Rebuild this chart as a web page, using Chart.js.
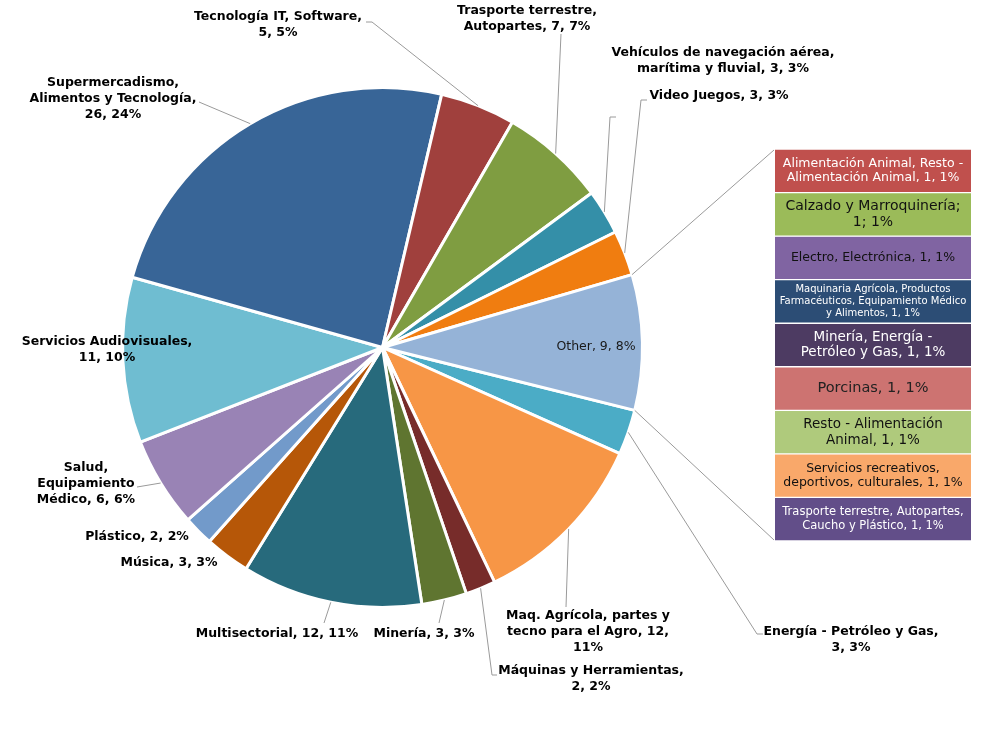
<!DOCTYPE html>
<html>
<head>
<meta charset="utf-8">
<script src="https://cdn.jsdelivr.net/npm/chart.js@4.4.1/dist/chart.umd.min.js"></script>
<style>
  body { margin: 0; background: #fff; }
  #wrap { position: relative; width: 993px; height: 744px; }
  #pieChart { position: absolute; left: 0; top: 0; }
  #otherChart { position: absolute; left: 775px; top: 149px; }
</style>
</head>
<body>
<div id="wrap">
  <canvas id="pieChart" width="993" height="744"></canvas>
  <canvas id="otherChart" width="196" height="392"></canvas>
</div>
<script>
// Pie data (alphabetical, "Other" last)
const categories = [
  'Energía - Petróleo y Gas',
  'Maq. Agrícola, partes y tecno para el Agro',
  'Máquinas y Herramientas',
  'Minería',
  'Multisectorial',
  'Música',
  'Plástico',
  'Salud, Equipamiento Médico',
  'Servicios Audiovisuales',
  'Supermercadismo, Alimentos y Tecnología',
  'Tecnología IT, Software',
  'Trasporte terrestre, Autopartes',
  'Vehículos de navegación aérea, marítima y fluvial',
  'Video Juegos',
  'Other'
];
const values = [3, 12, 2, 3, 12, 3, 2, 6, 11, 26, 5, 7, 3, 3, 9];
const dataLabels = [
  'Energía - Petróleo y Gas,\n3, 3%',
  'Maq. Agrícola, partes y\ntecno para el Agro, 12,\n11%',
  'Máquinas y Herramientas,\n2, 2%',
  'Minería, 3, 3%',
  'Multisectorial, 12, 11%',
  'Música, 3, 3%',
  'Plástico, 2, 2%',
  'Salud,\nEquipamiento\nMédico, 6, 6%',
  'Servicios Audiovisuales,\n11, 10%',
  'Supermercadismo,\nAlimentos y Tecnología,\n26, 24%',
  'Tecnología IT, Software,\n5, 5%',
  'Trasporte terrestre,\nAutopartes, 7, 7%',
  'Vehículos de navegación aérea,\nmarítima y fluvial, 3, 3%',
  'Video Juegos, 3, 3%',
  'Other, 9, 8%'
];

// Breakdown of "Other"
const otherCategories = [
  'Alimentación Animal, Resto - Alimentación Animal',
  'Calzado y Marroquinería',
  'Electro, Electrónica',
  'Maquinaria Agrícola, Productos Farmacéuticos, Equipamiento Médico y Alimentos',
  'Minería, Energía - Petróleo y Gas',
  'Porcinas',
  'Resto - Alimentación Animal',
  'Servicios recreativos, deportivos, culturales',
  'Trasporte terrestre, Autopartes, Caucho y Plástico'
];
const otherValues = [1, 1, 1, 1, 1, 1, 1, 1, 1];
const otherLabels = [
  'Alimentación Animal, Resto -\nAlimentación Animal, 1, 1%',
  'Calzado y Marroquinería;\n1; 1%',
  'Electro, Electrónica, 1, 1%',
  'Maquinaria Agrícola, Productos\nFarmacéuticos, Equipamiento Médico\ny Alimentos, 1, 1%',
  'Minería, Energía -\nPetróleo y Gas, 1, 1%',
  'Porcinas, 1, 1%',
  'Resto - Alimentación\nAnimal, 1, 1%',
  'Servicios recreativos,\ndeportivos, culturales, 1, 1%',
  'Trasporte terrestre, Autopartes,\nCaucho y Plástico, 1, 1%'
];

// Styling
const pieColors = ['#4BACC6', '#F79646', '#772C2A', '#5F7530', '#276A7C', '#B65708', '#729ACA',
  '#9983B5', '#6FBDD1', '#386597', '#A0403D', '#7F9D41', '#348FA8', '#F07D10', '#95B3D7'];
const otherColors = ['#C0504D', '#9BBB59', '#8064A2', '#2C4D75', '#4D3B62', '#CD7371', '#AFCA7C', '#F9A86A', '#624E89'];
const otherTextColors = ['#fff', '#111', '#111', '#fff', '#fff', '#222', '#111', '#111', '#fff'];
const otherFontSizes = [12.5, 14, 12.5, 10, 13.5, 14.5, 13.5, 12.5, 11.5];

// label placement: x, y of first line centre, leader line points (from slice edge)
const labelLayout = [
  { x: 851, y: 632, pts: [[757, 634], [763, 634]] },
  { x: 588, y: 616, pts: [[566, 607]] },
  { x: 591, y: 671, pts: [[492, 675], [497, 675]] },
  { x: 424, y: 634, pts: [[439, 623]] },
  { x: 277, y: 634, pts: [[324, 623]] },
  { x: 169, y: 563, pts: [] },
  { x: 137, y: 537, pts: [] },
  { x: 86, y: 468, pts: [[137, 487]] },
  { x: 107, y: 342, pts: [] },
  { x: 113, y: 83, pts: [[199, 102]] },
  { x: 278, y: 17, pts: [[372, 22], [366, 22]] },
  { x: 527, y: 11, pts: [[561, 34]] },
  { x: 723, y: 53, pts: [[610, 117], [616, 117]] },
  { x: 719, y: 96, pts: [[641, 100], [647, 100]] },
  { x: 596, y: 347, pts: [], inside: true }
];
const boxTop = 150, boxBottom = 540, boxLeft = 774;

function drawLines(ctx, text, x, y, lh) {
  text.split('\n').forEach((t, i) => ctx.fillText(t, x, y + i * lh));
}

const pieLabels = {
  id: 'pieLabels',
  afterDraw(chart) {
    const ctx = chart.ctx;
    const meta = chart.getDatasetMeta(0);
    ctx.save();
    ctx.textAlign = 'center';
    ctx.textBaseline = 'middle';
    meta.data.forEach((arc, i) => {
      const p = arc.getProps(['x', 'y', 'startAngle', 'endAngle', 'outerRadius'], true);
      const mid = (p.startAngle + p.endAngle) / 2;
      const lay = labelLayout[i];
      if (lay.pts.length) {
        ctx.strokeStyle = '#9a9a9a';
        ctx.lineWidth = 1;
        ctx.beginPath();
        ctx.moveTo(p.x + Math.cos(mid) * p.outerRadius, p.y + Math.sin(mid) * p.outerRadius);
        lay.pts.forEach(pt => ctx.lineTo(pt[0], pt[1]));
        ctx.stroke();
      }
      if (lay.inside) {
        ctx.fillStyle = '#1a1a1a';
        ctx.font = '12.5px "DejaVu Sans"';
        // connector lines to the "Other" breakdown
        ctx.strokeStyle = '#9a9a9a';
        ctx.lineWidth = 1;
        ctx.beginPath();
        ctx.moveTo(p.x + Math.cos(p.startAngle) * p.outerRadius, p.y + Math.sin(p.startAngle) * p.outerRadius);
        ctx.lineTo(boxLeft, boxTop);
        ctx.moveTo(p.x + Math.cos(p.endAngle) * p.outerRadius, p.y + Math.sin(p.endAngle) * p.outerRadius);
        ctx.lineTo(boxLeft, boxBottom);
        ctx.stroke();
      } else {
        ctx.fillStyle = '#000';
        ctx.font = 'bold 12.5px "DejaVu Sans"';
      }
      drawLines(ctx, dataLabels[i], lay.x, lay.y, 16);
    });
    ctx.restore();
  }
};

new Chart(document.getElementById('pieChart'), {
  type: 'pie',
  data: {
    labels: categories,
    datasets: [{
      data: values,
      backgroundColor: pieColors,
      borderColor: '#fff',
      borderWidth: 3,
      hoverOffset: 0
    }]
  },
  options: {
    responsive: false,
    animation: false,
    rotation: 104,
    layout: { padding: { left: 121, right: 349, top: 86, bottom: 135 } },
    plugins: { legend: { display: false }, tooltip: { enabled: false } }
  },
  plugins: [pieLabels]
});

const boxLabels = {
  id: 'boxLabels',
  afterDatasetsDraw(chart) {
    const ctx = chart.ctx;
    ctx.save();
    ctx.textAlign = 'center';
    ctx.textBaseline = 'middle';
    chart.data.datasets.forEach((ds, i) => {
      const bar = chart.getDatasetMeta(i).data[0];
      const cx = bar.x;
      const cy = (bar.y + bar.base) / 2;
      const size = otherFontSizes[i];
      const lines = otherLabels[i].split('\n');
      const lh = size * 1.18;
      ctx.fillStyle = otherTextColors[i];
      ctx.font = size + 'px "DejaVu Sans"';
      lines.forEach((t, k) => ctx.fillText(t, cx, cy + (k - (lines.length - 1) / 2) * lh));
    });
    ctx.restore();
  }
};

new Chart(document.getElementById('otherChart'), {
  type: 'bar',
  data: {
    labels: ['Other'],
    datasets: otherCategories.map((c, i) => ({
      label: c,
      data: [otherValues[i]],
      backgroundColor: otherColors[i],
      borderColor: '#fff',
      borderWidth: { top: 1, bottom: 1, left: 0, right: 0 },
      borderSkipped: false,
      barPercentage: 1,
      categoryPercentage: 1
    }))
  },
  options: {
    responsive: false,
    animation: false,
    layout: { padding: 0 },
    scales: {
      x: { display: false, stacked: true },
      y: { display: false, stacked: true, reverse: true, min: 0, max: 9 }
    },
    plugins: { legend: { display: false }, tooltip: { enabled: false } }
  },
  plugins: [boxLabels]
});
</script>
</body>
</html>
